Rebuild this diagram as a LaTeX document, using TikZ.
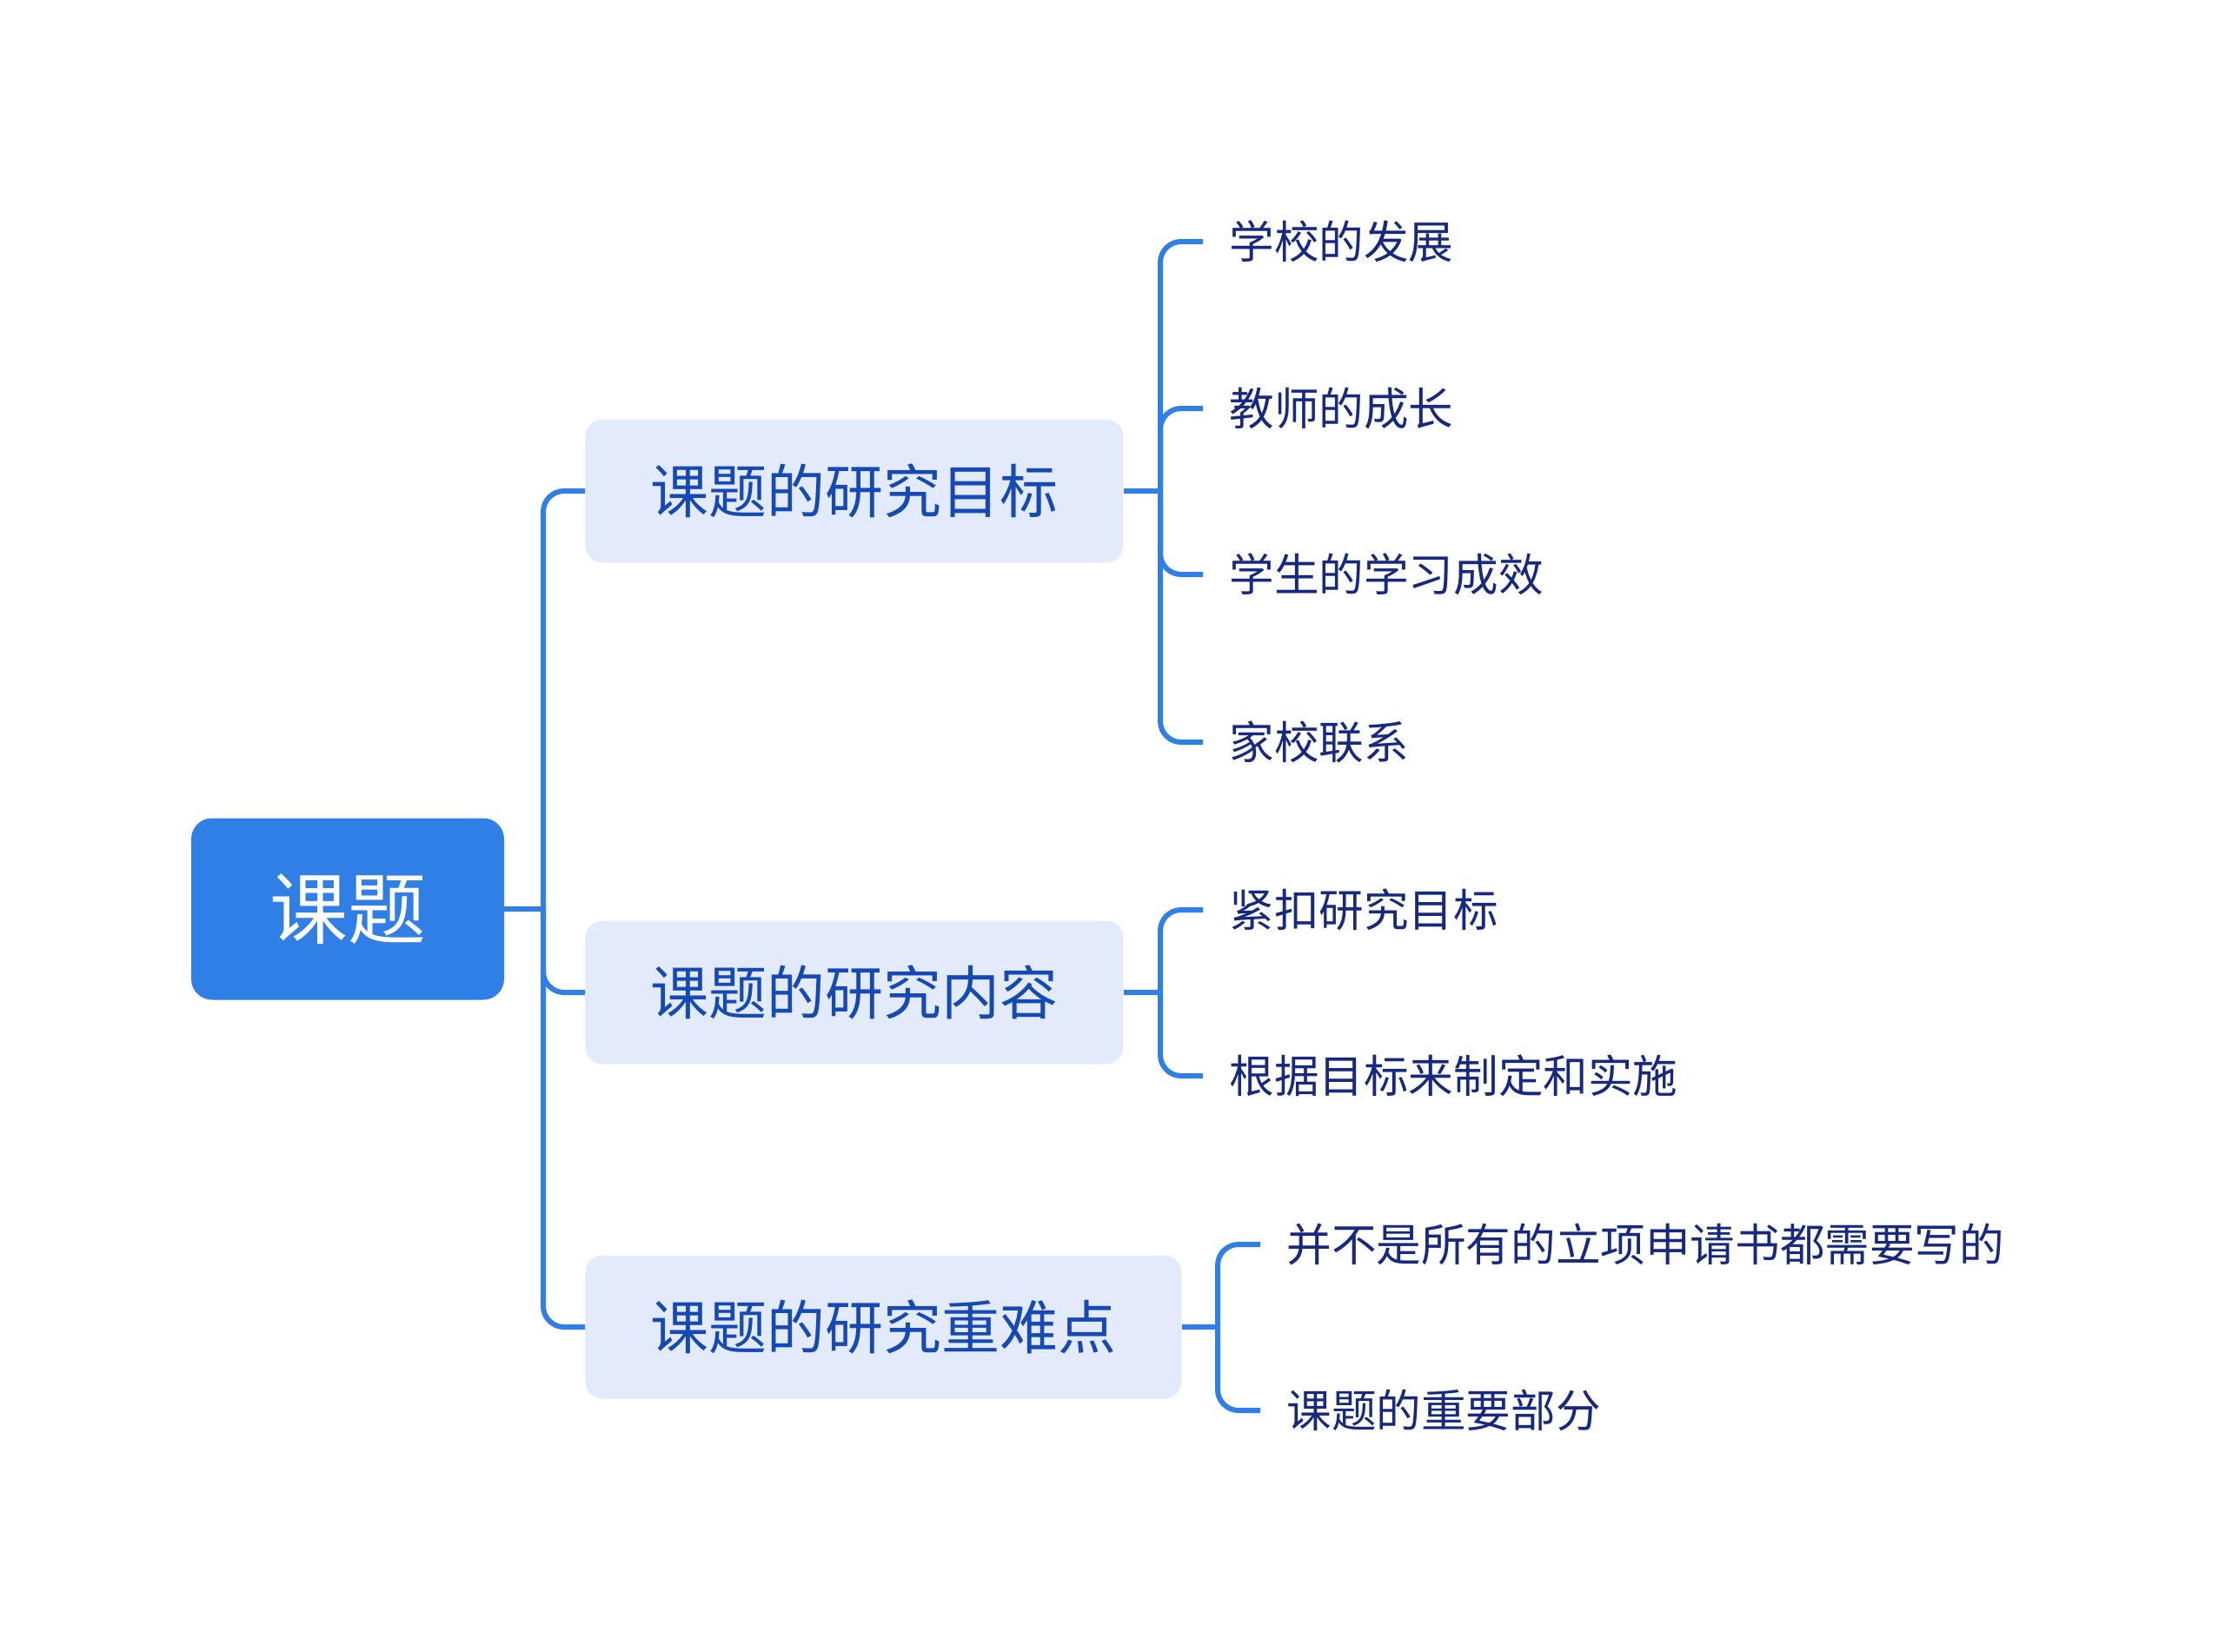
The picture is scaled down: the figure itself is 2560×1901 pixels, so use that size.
\documentclass[tikz,border=0pt]{standalone}
\usepackage{fontspec}
\setmainfont{Noto Sans CJK SC}
\usetikzlibrary{positioning,calc}
\definecolor{mainblue}{HTML}{2F7FE6}
\definecolor{boxfill}{HTML}{E2EAFB}
\definecolor{subtext}{HTML}{1549B5}
\definecolor{leaftext}{HTML}{17297E}
\tikzset{
  rootbox/.style={fill=mainblue, text=white, rounded corners=12pt, inner xsep=45pt,
    minimum height=104.5pt, font=\fontsize{45}{50}\selectfont},
  subbox/.style={fill=boxfill, text=subtext, rounded corners=10pt, inner xsep=37.5pt,
    minimum height=82.5pt, font=\fontsize{33.5}{38}\selectfont},
  leaf/.style={text=leaftext, inner xsep=15pt, inner ysep=2pt, anchor=west,
    font=\fontsize{25.8}{30}\selectfont},
  link/.style={draw=mainblue, line width=3pt},
  curvedlink/.style={link, rounded corners=12pt}
}
\begin{document}
\begin{tikzpicture}[x=0.5pt,y=-0.5pt]
\useasboundingbox (0,0) rectangle (2560,1901);
% main nodes
\node[rootbox] (root) at (400,1046) {课题};
\node[subbox, anchor=west] (goal) at (673,565) {课题的研究目标};
\node[subbox, anchor=west] (content) at (673,1142) {课题的研究内容};
\node[subbox, anchor=west] (focus) at (673,1527) {课题的研究重难点};
% leaves
\node[leaf] (g1) at (1384,278) {学校的发展};
\node[leaf] (g2) at (1384,470) {教师的成长};
\node[leaf] (g3) at (1384,661) {学生的学习成效};
\node[leaf] (g4) at (1384,854) {家校联系};
\node[leaf] (c1) at (1384,1047) {紧扣研究目标};
\node[leaf] (c2) at (1384,1238) {根据目标来制定和实施};
\node[leaf] (f1) at (1450,1432) {并不是所有的立项申请书都需要写的};
\node[leaf] (f2) at (1450,1623) {课题的重要部分};
% junctions
\coordinate (j0) at (625,1046);
\coordinate (jg) at (1335,565);
\coordinate (jc) at (1335,1142);
\coordinate (jf) at (1401,1527);
% connectors
\draw[link] (root.east) -- (j0);
\foreach \b in {goal,content,focus}
  \draw[curvedlink] (j0) |- (\b.west);
\draw[link] (goal.east) -- (jg);
\foreach \l in {g1,g2,g3,g4}
  \draw[curvedlink] (jg) |- (\l.west);
\draw[link] (content.east) -- (jc);
\foreach \l in {c1,c2}
  \draw[curvedlink] (jc) |- (\l.west);
\draw[link] (focus.east) -- (jf);
\foreach \l in {f1,f2}
  \draw[curvedlink] (jf) |- (\l.west);
\end{tikzpicture}
\end{document}
